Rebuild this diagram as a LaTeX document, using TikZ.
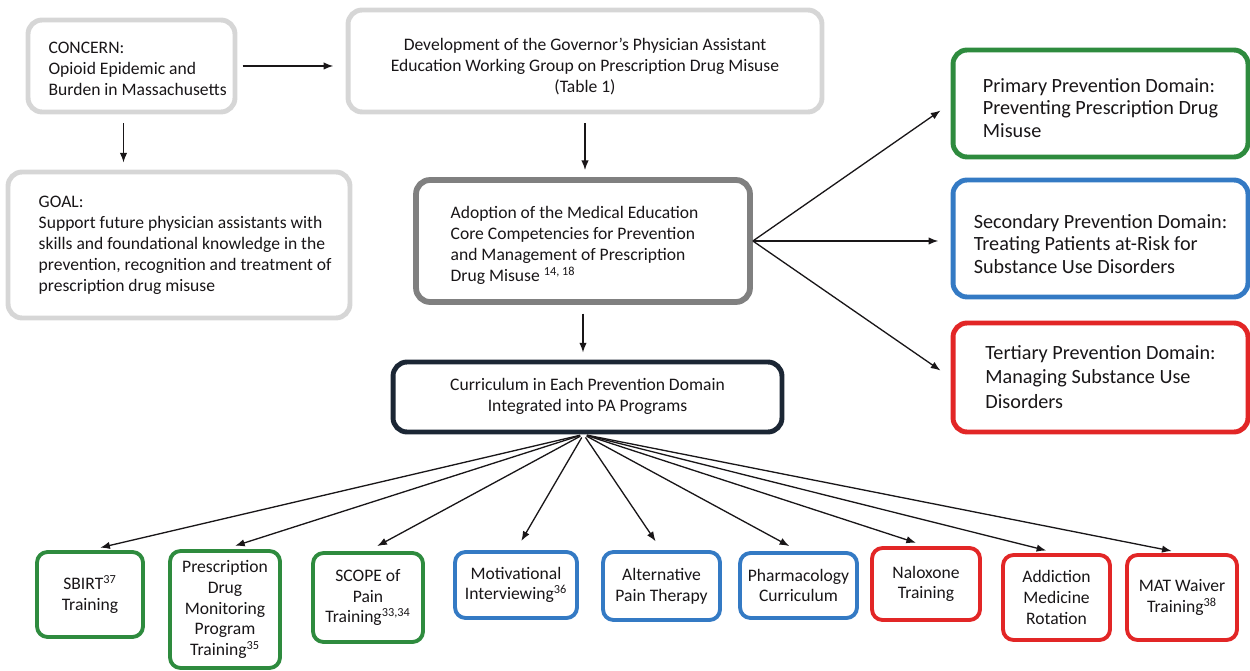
\documentclass[tikz,border=0pt]{standalone}
\usepackage{fontspec}
\setmainfont{Carlito}
\usepackage{xcolor}
\usepackage{tikz}
\usetikzlibrary{arrows.meta, positioning, calc}
\definecolor{txtdark}{RGB}{25, 22, 24}
\definecolor{lightframe}{RGB}{214, 214, 214}
\definecolor{midframe}{RGB}{128, 128, 128}
\definecolor{navyframe}{RGB}{27, 38, 52}
\definecolor{primgreen}{RGB}{46, 139, 62}
\definecolor{secblue}{RGB}{52, 122, 196}
\definecolor{terred}{RGB}{226, 38, 38}

% text block lowered by #1 inside its box, columns aligned #2
\newcommand{\droptext}[3]{\raisebox{-#1}[\height][\depth]{\begin{tabular}{@{}#2@{}}#3\end{tabular}}}

\tikzset{
  box/.style={rounded corners=8pt, fill=white, text=txtdark, inner sep=2pt},
  topbox/.style={box, draw=lightframe, line width=2.8pt,
                 font=\fontsize{10}{12}\selectfont},
  domainbox/.style={box, line width=2.8pt,
                    font=\fontsize{11.5}{12.8}\selectfont},
  trainbox/.style={box, rounded corners=6pt, line width=2.2pt, align=center,
                   font=\fontsize{10}{11.8}\selectfont},
  arr/.style={-{Latex[length=5.5pt, width=4.2pt]}, line width=0.75pt, txtdark}
}

\begin{document}
\begin{tikzpicture}[x=0.02cm, y=-0.02cm]
  \useasboundingbox (0,0) rectangle (1250,671);

  % top row
  \node[topbox, minimum width=4.14cm, minimum height=1.84cm] (concern) at (131.5,66) {%
    \hspace*{7pt}\droptext{2.6pt}{l}{CONCERN:\\
    Opioid Epidemic and\\
    Burden in Massachusetts}};
  \node[topbox, minimum width=9.48cm, minimum height=2.04cm] (governor) at (585,61) {%
    \droptext{3.4pt}{c}{Development of the Governor’s Physician Assistant\\
    Education Working Group on Prescription Drug Misuse\\
    (Table 1)}};
  \node[topbox, minimum width=6.84cm, minimum height=2.92cm] (goal) at (179,245) {%
    \hspace*{7pt}\droptext{0pt}{l}{GOAL:\\
    Support future physician assistants with\\
    skills and foundational knowledge in the\\
    prevention, recognition and treatment of\\
    prescription drug misuse}};

  % middle column
  \node[topbox, draw=midframe, line width=3.3pt, minimum width=6.68cm, minimum height=2.44cm] (adoption) at (583,241) {%
    \droptext{2.8pt}{l}{Adoption of the Medical Education\\
    Core Competencies for Prevention\\
    and Management of Prescription\\
    Drug Misuse \textsuperscript{14, 18}}\hspace*{9.6pt}};
  \node[topbox, draw=navyframe, minimum width=7.78cm, minimum height=1.4cm] (curriculum) at (587.5,397) {%
    \droptext{0pt}{c}{Curriculum in Each Prevention Domain\\
    Integrated into PA Programs}};

  % prevention domains
  \node[domainbox, draw=primgreen, minimum width=5.9cm, minimum height=2.14cm] (primary) at (1100.5,103.5) {%
    \droptext{3.9pt}{l}{Primary Prevention Domain:\\
    Preventing Prescription Drug\\
    Misuse}};
  \node[domainbox, draw=secblue, minimum width=5.9cm, minimum height=2.34cm] (secondary) at (1100.5,238.5) {%
    \droptext{4.3pt}{l}{Secondary Prevention Domain:\\
    Treating Patients at-Risk for\\
    Substance Use Disorders}};
  \node[domainbox, draw=terred, font=\fontsize{11.5}{14}\selectfont, minimum width=5.9cm, minimum height=2.18cm] (tertiary) at (1100.5,377.5) {%
    \droptext{0.8pt}{l}{Tertiary Prevention Domain:\\
    Managing Substance Use\\
    Disorders}};

  % curriculum items
  \node[trainbox, draw=primgreen, minimum width=2.12cm, minimum height=1.7cm] (sbirt) at (90,594.5) {SBIRT\textsuperscript{37}\\Training};
  \node[trainbox, draw=primgreen, minimum width=2.2cm, minimum height=2.34cm] (pdmp) at (225,609.5) {Prescription\\Drug\\Monitoring\\Program\\Training\textsuperscript{35}};
  \node[trainbox, draw=primgreen, minimum width=2.2cm, minimum height=1.78cm] (scope) at (368,597.5) {SCOPE of\\Pain\\Training\textsuperscript{33,34}};
  \node[trainbox, draw=secblue, minimum width=2.44cm, minimum height=1.32cm] (motiv) at (516,585) {Motivational\\Interviewing\textsuperscript{36}};
  \node[trainbox, draw=secblue, minimum width=2.34cm, minimum height=1.36cm] (altpain) at (661.5,586) {Alternative\\Pain Therapy};
  \node[trainbox, draw=secblue, minimum width=2.34cm, minimum height=1.3cm] (pharm) at (798.5,585.5) {Pharmacology\\Curriculum};
  \node[trainbox, draw=terred, minimum width=2.16cm, minimum height=1.44cm] (naloxone) at (926,584) {Naloxone\\Training};
  \node[trainbox, draw=terred, minimum width=2.14cm, minimum height=1.7cm] (addiction) at (1056.5,597.5) {Addiction\\Medicine\\Rotation};
  \node[trainbox, draw=terred, minimum width=2.2cm, minimum height=1.7cm] (matwaiver) at (1182,597.5) {MAT Waiver\\Training\textsuperscript{38}};

  % connectors
  \coordinate (concern-foot) at ($(concern.south)+(-8,0)$);
  \coordinate (fan) at ($(curriculum.south)+(-4,0)$);
  \draw[arr, shorten <=3pt, shorten >=7pt] (concern.east) -- (governor.west |- concern.east);
  \draw[arr, shorten <=5pt, shorten >=4pt] (concern-foot) -- (concern-foot |- goal.north);
  \draw[arr, shorten <=5pt, shorten >=4pt] (governor.south) -- (governor.south |- adoption.north);
  \draw[arr, shorten <=5pt, shorten >=4pt] (adoption.south) -- (adoption.south |- curriculum.north);
  \draw[arr, shorten >=7pt] (adoption.east) -- (primary.west);
  \draw[arr, shorten >=7pt] (adoption.east) -- (adoption.east -| secondary.west);
  \draw[arr, shorten >=7pt] (adoption.east) -- (tertiary.west);
  \foreach \item in {sbirt, pdmp, scope, motiv, altpain, pharm, naloxone, addiction, matwaiver}
    \draw[arr, shorten <=2pt, shorten >=6pt] (fan) -- (\item.north);
\end{tikzpicture}
\end{document}
